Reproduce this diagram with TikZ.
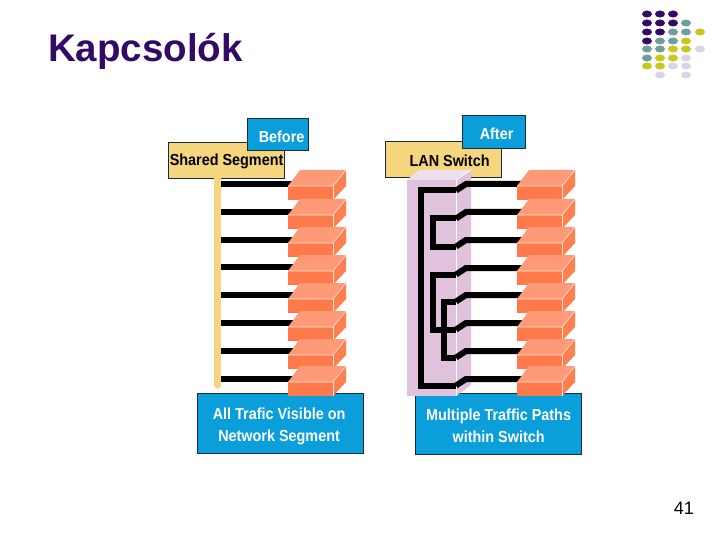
\documentclass[tikz,border=0pt]{standalone}
\usepackage{fontspec}
\setmainfont{Liberation Sans}
\newfontfamily\capf[FakeStretch=0.9]{Liberation Sans}
\definecolor{titlec}{HTML}{330A66}
\definecolor{teal1}{HTML}{6E9E9E}
\definecolor{yel1}{HTML}{C8C81E}
\definecolor{lil1}{HTML}{D6D6E8}
\definecolor{bluebox}{HTML}{0A9FDB}
\definecolor{yelbox}{HTML}{F5D67E}
\definecolor{brickfront}{HTML}{FF7A4A}
\definecolor{bricktop}{HTML}{FF9A78}
\definecolor{brickside}{HTML}{FF7F50}
\definecolor{swfront}{HTML}{E0C2DC}
\definecolor{swtop}{HTML}{EEDFEC}
\definecolor{edgec}{HTML}{1A2A3A}
\usetikzlibrary{shapes.geometric}
\tikzset{
  x=1pt,y=-1pt,
  boxbase/.style={draw=edgec,line width=1.2pt,inner sep=0pt,anchor=north west},
  bluelabel/.style={boxbase,fill=bluebox},
  yellabel/.style={boxbase,fill=yelbox},
  bluetext/.style={text=white,inner sep=0pt,align=center,font=\capf\bfseries\fontsize{16}{22}\selectfont},
  yeltext/.style={text=black,inner sep=0pt,align=center,font=\capf\bfseries\fontsize{16}{18}\selectfont},
  wire/.style={draw=black,line width=6pt},
  pdot/.style={draw=none,ellipse,minimum width=10pt,minimum height=7pt,inner sep=0pt},
}
\newcommand{\brick}[3]{% x of front-left, y of back-top, name
  \fill[bricktop] (#1,#2+16) -- (#1+12,#2) -- (#1+58,#2) -- (#1+45,#2+16) -- cycle;
  \fill[brickside] (#1+45,#2+16) -- (#1+58,#2) -- (#1+58,#2+16) -- (#1+45,#2+30) -- cycle;
  \fill[brickfront] (#1,#2+16) rectangle (#1+45,#2+30);
  \draw[white!75!bricktop,line width=0.6pt] (#1,#2+16) -- (#1+45,#2+16) -- (#1+58,#2);
  \draw[white!75!bricktop,line width=0.6pt] (#1+45,#2+16) -- (#1+45,#2+30);
  \coordinate (#3) at (#1+4,#2+14);
}
\begin{document}
\begin{tikzpicture}
\useasboundingbox (0,0) rectangle (720,540);
\fill[white] (0,0) rectangle (720,540);

% title and page number
\node[anchor=base west,text=titlec,font=\bfseries\fontsize{38.5}{40}\selectfont,inner sep=0pt] (title) at (48,62) {Kapcsolók};
\node[anchor=east,text=black,font=\fontsize{18}{18}\selectfont,inner sep=0pt] (pageno) at (694,508) {41};

% corner dots
\foreach \c/\col/\row in {
 titlec/647/14,titlec/660/14,titlec/673/14,
 titlec/647/23,titlec/660/23,titlec/673/23,teal1/686/23,
 titlec/647/32,titlec/660/32,teal1/673/32,teal1/686/32,yel1/700/32,
 titlec/647/41,teal1/660/41,teal1/673/41,yel1/686/41,
 teal1/647/49,teal1/660/49,yel1/673/49,yel1/686/49,lil1/700/49,
 teal1/647/58,yel1/660/58,yel1/673/58,lil1/686/58,
 yel1/647/66,yel1/660/66,lil1/673/66,lil1/686/66,
 lil1/660/75,lil1/686/75}
  \node[pdot,fill=\c] (d\col-\row) at (\col,\row) {};

% bottom captions
\node[bluelabel,minimum width=166pt,minimum height=60pt,label={[bluetext,yshift=-3pt,xshift=-1.5pt]center:All Trafic Visible on\\Network Segment}] (capL) at (197,393) {};
\node[bluelabel,minimum width=166pt,minimum height=61pt,label={[bluetext,yshift=-1.5pt]center:Multiple Traffic Paths\\within Switch}] (capR) at (415,393) {};

% ---------- left: shared segment
\node[yellabel,minimum width=116pt,minimum height=36pt,label={[yeltext,yshift=-1pt]center:Shared Segment}] (shared) at (168,142) {};
\node[bluelabel,minimum width=61pt,minimum height=32pt,label={[bluetext,xshift=3.5pt,yshift=-2pt]center:Before}] (before) at (247,118) {};
\coordinate (busT) at (217.5,178);
\coordinate (busB) at (217.5,385);
\foreach \y [count=\i] in {184,212,240,267,295,323,351,379}{
  \coordinate (bl\i) at (217,\y);
  \coordinate (el\i) at (293,\y);
  \draw[wire] (bl\i) -- (el\i);
}
\draw[yelbox,line width=7pt,line cap=round] (busT) -- (busB);
\fill[yelbox] (214,178) rectangle (221,186);
\foreach \y [count=\i] in {170,199,227,255,283,311,339,366}
  \brick{288}{\y}{bL\i};

% ---------- right: LAN switch
\node[yellabel,minimum width=116pt,minimum height=36pt,label={[yeltext,xshift=6pt,yshift=-1pt]center:LAN Switch}] (lan) at (385,141) {};
\node[bluelabel,minimum width=63pt,minimum height=33pt,label={[bluetext,xshift=2.5pt,yshift=-1.5pt]center:After}] (after) at (462,115) {};

\fill[swtop] (407,180) -- (419,170) -- (471,170) -- (456,180) -- cycle;
\fill[swfront] (407,180) rectangle (456,396);
\fill[swfront] (456,180) -- (471,170) -- (471,385) -- (456,396) -- cycle;
\draw[white,line width=0.7pt] (456,180) -- (456,396);
\draw[white,line width=0.7pt] (456,180) -- (471,170);

\foreach \y [count=\i] in {184,212,240,268,295,323,351,379}{
  \coordinate (R\i) at (522,\y);
  \coordinate (J\i) at (466,\y);
  \coordinate (K\i) at (456,\y+6.5);
  \draw[wire,line join=miter] (R\i) -- (J\i) -- (K\i);
}
\draw[wire,line join=miter] (K1) -- (421,190.5) -- (421,385.5) -- (K8);
\draw[wire,line join=miter] (K2) -- (433,218.5) -- (433,246.5) -- (K3);
\draw[wire,line join=miter] (K4) -- (433,274.5) -- (433,329.5) -- (K6);
\draw[wire,line join=miter] (K5) -- (444,301.5) -- (444,357.5) -- (K7);

\foreach \y [count=\i] in {170,199,227,255,283,311,339,366}
  \brick{517}{\y}{bR\i};
\end{tikzpicture}
\end{document}
